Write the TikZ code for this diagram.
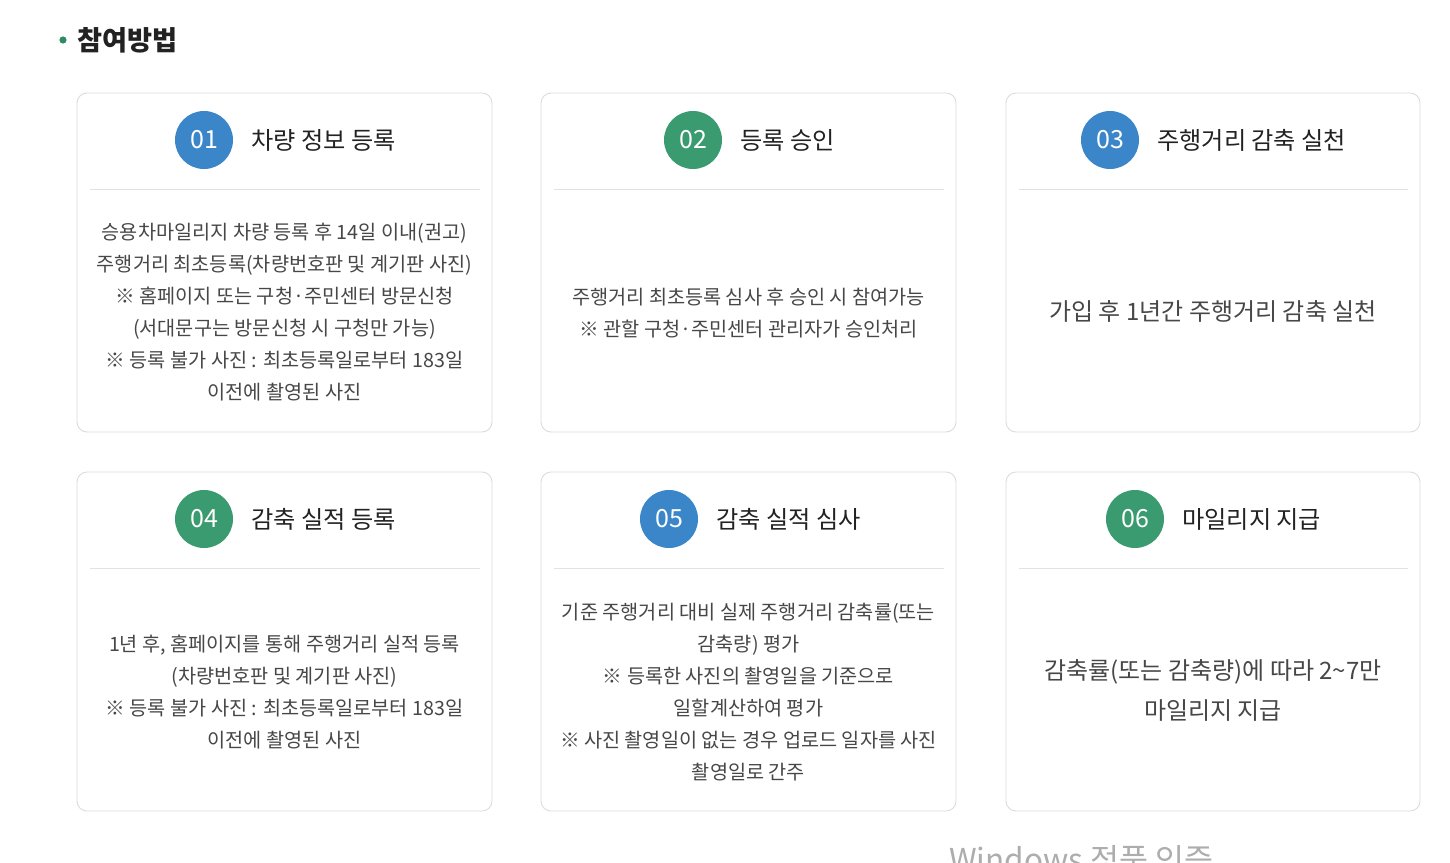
\documentclass[tikz,border=0pt]{standalone}
\usepackage{fontspec}
\setmainfont{Noto Sans CJK KR}
\definecolor{stepblue}{HTML}{3A86C8}
\definecolor{stepgreen}{HTML}{3A9B70}
\definecolor{dotgreen}{HTML}{2E8B64}
\definecolor{cardline}{HTML}{DCDCDC}
\definecolor{sepline}{HTML}{E2E2E2}
\definecolor{titletext}{HTML}{222222}
\definecolor{bodytext}{HTML}{474747}
\tikzset{
  card/.style={draw=cardline, line width=0.9pt, rounded corners=10pt, fill=white},
  sep/.style={draw=sepline, line width=0.9pt},
  badge/.style={circle, minimum size=58pt, inner sep=0pt, text=white,
    font=\fontsize{25}{25}\selectfont},
  steptitle/.style={anchor=west, inner sep=0pt, text=titletext,
    font=\fontsize{24.2}{24}\selectfont},
  body/.style={align=center, inner sep=0pt, text=bodytext,
    font=\fontsize{19.7}{32}\selectfont},
  bigbody/.style={align=center, inner sep=0pt, text=bodytext,
    font=\fontsize{24}{40}\selectfont}
}
\begin{document}
\begin{tikzpicture}[x=1pt, y=-1pt]
    \useasboundingbox[fill=white] (0,0) rectangle (1450,862);

    % heading
    \fill[dotgreen] (63,40) circle (3.6);
    \node[anchor=west, inner sep=0pt, text=titletext, font=\fontsize{27.2}{27}\selectfont\bfseries] (head) at (77,40) {참여방법};

    % cards, first row
    \draw[card] (77,93) rectangle (492,432);
    \draw[card] (541,93) rectangle (956,432);
    \draw[card] (1006,93) rectangle (1420,432);
    % cards, second row
    \draw[card] (77,472) rectangle (492,811);
    \draw[card] (541,472) rectangle (956,811);
    \draw[card] (1006,472) rectangle (1420,811);

    % lines under the titles
    \draw[sep] (90,189) -- (480,189);
    \draw[sep] (554,189) -- (944,189);
    \draw[sep] (1019,189) -- (1408,189);
    \draw[sep] (90,568) -- (480,568);
    \draw[sep] (554,568) -- (944,568);
    \draw[sep] (1019,568) -- (1408,568);

    % step 01
    \node[badge, fill=stepblue] (b1) at (204,140) {01};
    \node[steptitle] (t1) at (251,140) {차량 정보 등록};
    \node[body] (d1) at (284.5,312.5) {승용차마일리지 차량 등록 후 14일 이내(권고)\\
      주행거리 최초등록(차량번호판 및 계기판 사진)\\
      ※ 홈페이지 또는 구청·주민센터 방문신청\\
      (서대문구는 방문신청 시 구청만 가능)\\
      ※ 등록 불가 사진 : 최초등록일로부터 183일\\
      이전에 촬영된 사진};

    % step 02
    \node[badge, fill=stepgreen] (b2) at (693,140) {02};
    \node[steptitle] (t2) at (740,140) {등록 승인};
    \node[body] (d2) at (748.5,313) {주행거리 최초등록 심사 후 승인 시 참여가능\\
      ※ 관할 구청·주민센터 관리자가 승인처리};

    % step 03
    \node[badge, fill=stepblue] (b3) at (1110,140) {03};
    \node[steptitle] (t3) at (1157,140) {주행거리 감축 실천};
    \node[bigbody] (d3) at (1213,311) {가입 후 1년간 주행거리 감축 실천};

    % step 04
    \node[badge, fill=stepgreen] (b4) at (204,519) {04};
    \node[steptitle] (t4) at (251,519) {감축 실적 등록};
    \node[body] (d4) at (284.5,692) {1년 후, 홈페이지를 통해 주행거리 실적 등록\\
      (차량번호판 및 계기판 사진)\\
      ※ 등록 불가 사진 : 최초등록일로부터 183일\\
      이전에 촬영된 사진};

    % step 05
    \node[badge, fill=stepblue] (b5) at (669,519) {05};
    \node[steptitle] (t5) at (716,519) {감축 실적 심사};
    \node[body] (d5) at (748.5,692) {기준 주행거리 대비 실제 주행거리 감축률(또는\\
      감축량) 평가\\
      ※ 등록한 사진의 촬영일을 기준으로\\
      일할계산하여 평가\\
      ※ 사진 촬영일이 없는 경우 업로드 일자를 사진\\
      촬영일로 간주};

    % step 06
    \node[badge, fill=stepgreen] (b6) at (1135,519) {06};
    \node[steptitle] (t6) at (1182,519) {마일리지 지급};
    \node[bigbody] (d6) at (1213,690) {감축률(또는 감축량)에 따라 2\textasciitilde7만\\
      마일리지 지급};

    % watermark at the bottom edge
    \node[anchor=base west, inner sep=0pt, text=black!32, font=\fontsize{31.5}{31}\selectfont] (wm) at (949,871) {Windows 정품 인증};
\end{tikzpicture}
\end{document}
